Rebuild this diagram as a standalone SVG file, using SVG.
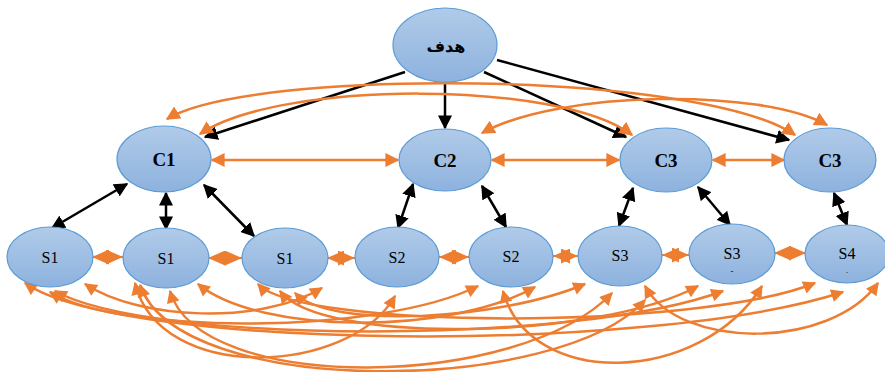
<svg xmlns="http://www.w3.org/2000/svg" width="885" height="372" viewBox="0 0 885 372">
<style>
.node ellipse{fill:url(#g);stroke:#5b9bd5;stroke-width:1.2}
.ct{font-family:"Liberation Serif","Times New Roman",serif;font-weight:bold;font-size:19px;fill:#000;text-anchor:middle}
.st{font-family:"Liberation Serif","Times New Roman",serif;font-size:16px;fill:#000;text-anchor:middle}
.mk{font-family:"Liberation Serif","Times New Roman",serif;font-size:9px;fill:#000;text-anchor:middle}
.bk{stroke:#000;stroke-width:2.5;fill:none;marker-start:url(#ah);marker-end:url(#ah)}
.bk1{stroke:#000;stroke-width:2.5;fill:none;marker-end:url(#ah)}
.or{stroke:#ed7d31;stroke-width:2.5;fill:none;marker-start:url(#oh);marker-end:url(#oh)}
.dm{stroke:#ed7d31;stroke-width:2;fill:none;marker-start:url(#od);marker-end:url(#od)}
.cv{stroke:#ed7d31;stroke-width:2.5;fill:none;marker-start:url(#oc);marker-end:url(#oc)}
</style>
<defs>
<linearGradient id="g" x1="0" y1="0" x2="0" y2="1">
<stop offset="0" stop-color="#b1cbe9"/>
<stop offset="1" stop-color="#8db2de"/>
</linearGradient>
<marker id="ah" viewBox="0 0 10 10" refX="9" refY="5" markerWidth="14" markerHeight="14" markerUnits="userSpaceOnUse" orient="auto-start-reverse"><path d="M0,0 L10,5 L0,10 z" fill="#000"/></marker>
<marker id="oh" viewBox="0 0 10 10" refX="9" refY="5" markerWidth="14" markerHeight="14" markerUnits="userSpaceOnUse" orient="auto-start-reverse"><path d="M0,0 L10,5 L0,10 z" fill="#ed7d31"/></marker>
<marker id="oc" viewBox="0 0 10 10" refX="9" refY="5" markerWidth="14" markerHeight="13" markerUnits="userSpaceOnUse" orient="auto-start-reverse"><path d="M0,0 L10,5 L0,10 z" fill="#ed7d31"/></marker>
<marker id="od" viewBox="0 0 16 14" refX="16" refY="7" markerWidth="17" markerHeight="15" markerUnits="userSpaceOnUse" orient="auto-start-reverse"><path d="M0,0 L16,7 L0,14 z" fill="#ed7d31"/></marker>
</defs>
<g id="connectors">
<line class="bk1" x1="405" y1="72" x2="205" y2="137"/>
<line class="bk1" x1="445" y1="82" x2="445" y2="128"/>
<line class="bk1" x1="484" y1="72" x2="626" y2="137"/>
<line class="bk1" x1="497" y1="60" x2="789" y2="140"/>
<path class="or" d="M167,119 C250,68 700,70 795,135"/>
<path class="or" d="M200,134 C280,80 560,80 632,135"/>
<path class="or" d="M482,133 C560,90 760,88 827,125"/>
<line class="or" x1="212" y1="160" x2="398" y2="160"/>
<line class="or" x1="492" y1="160" x2="619" y2="160"/>
<line class="or" x1="713" y1="160" x2="784" y2="160"/>
<line class="bk" x1="127" y1="184" x2="52" y2="228"/>
<line class="bk" x1="166" y1="193" x2="166" y2="229"/>
<line class="bk" x1="204" y1="185" x2="254" y2="236"/>
<line class="bk" x1="413" y1="184" x2="398" y2="228"/>
<line class="bk" x1="482" y1="186" x2="506" y2="227"/>
<line class="bk" x1="633" y1="188" x2="619" y2="226"/>
<line class="bk" x1="698" y1="187" x2="730" y2="225"/>
<line class="bk" x1="834" y1="193" x2="847" y2="225"/>
<line class="dm" x1="92" y1="257" x2="123" y2="257"/>
<line class="dm" x1="208" y1="258" x2="242" y2="258"/>
<line class="dm" x1="327" y1="258" x2="355" y2="258"/>
<line class="dm" x1="439" y1="257" x2="469" y2="257"/>
<line class="dm" x1="553" y1="256" x2="578" y2="256"/>
<line class="dm" x1="662" y1="255" x2="689" y2="255"/>
<line class="dm" x1="774" y1="253" x2="806" y2="253"/>
<path class="cv" d="M25,283 C120,350 650,355 843,292"/>
<path class="cv" d="M55,291 C150,345 580,345 723,291"/>
<path class="cv" d="M85,284 C140,320 260,325 322,288"/>
<path class="cv" d="M135,283 C160,385 350,375 395,296"/>
<path class="cv" d="M170,291 C200,395 520,390 612,293"/>
<path class="cv" d="M140,285 C180,400 560,395 645,300"/>
<path class="cv" d="M198,284 C260,335 450,335 535,287"/>
<path class="cv" d="M258,284 C300,330 700,330 815,283"/>
<path class="cv" d="M280,291 C320,345 600,340 698,286"/>
<path class="cv" d="M295,293 C330,330 500,320 585,284"/>
<path class="cv" d="M50,292 C120,335 380,335 478,286"/>
<path class="cv" d="M503,291 C530,390 700,385 762,286"/>
<path class="cv" d="M645,286 C680,350 830,350 878,283"/>
</g>
<g id="goal" class="node"><ellipse cx="445" cy="45" rx="52" ry="37"/><text x="446" y="52" font-family="'DejaVu Sans',sans-serif" font-weight="bold" font-size="16" text-anchor="middle">هدف</text></g>
<g id="c1" class="node"><ellipse cx="164" cy="159" rx="47" ry="33"/><text class="ct" x="164" y="166">C1</text></g>
<g id="c2" class="node"><ellipse cx="445" cy="160" rx="46" ry="31"/><text class="ct" x="445" y="167">C2</text></g>
<g id="c3a" class="node"><ellipse cx="666" cy="160" rx="46" ry="32"/><text class="ct" x="666" y="167">C3</text></g>
<g id="c3b" class="node"><ellipse cx="830" cy="160" rx="46" ry="32"/><text class="ct" x="830" y="167">C3</text></g>
<g id="s1a" class="node"><ellipse cx="50" cy="257" rx="43" ry="30"/><text class="st" x="50" y="263">S1</text></g>
<g id="s1b" class="node"><ellipse cx="166" cy="258" rx="43" ry="30"/><text class="st" x="166" y="264">S1</text></g>
<g id="s1c" class="node"><ellipse cx="285" cy="258" rx="43" ry="30"/><text class="st" x="285" y="264">S1</text></g>
<g id="s2a" class="node"><ellipse cx="397" cy="257" rx="42" ry="30"/><text class="st" x="397" y="263">S2</text></g>
<g id="s2b" class="node"><ellipse cx="511" cy="257" rx="42" ry="30"/><text class="st" x="511" y="262">S2</text></g>
<g id="s3a" class="node"><ellipse cx="620" cy="256" rx="42" ry="30"/><text class="st" x="620" y="261">S3</text></g>
<g id="s3b" class="node"><ellipse cx="732" cy="254" rx="43" ry="30"/><text class="st" x="732" y="259">S3</text><text class="mk" x="732" y="274">-</text></g>
<g id="s4" class="node"><ellipse cx="847" cy="254" rx="42" ry="29"/><text class="st" x="847" y="259">S4</text><text class="mk" x="847" y="273">.</text></g>
</svg>
